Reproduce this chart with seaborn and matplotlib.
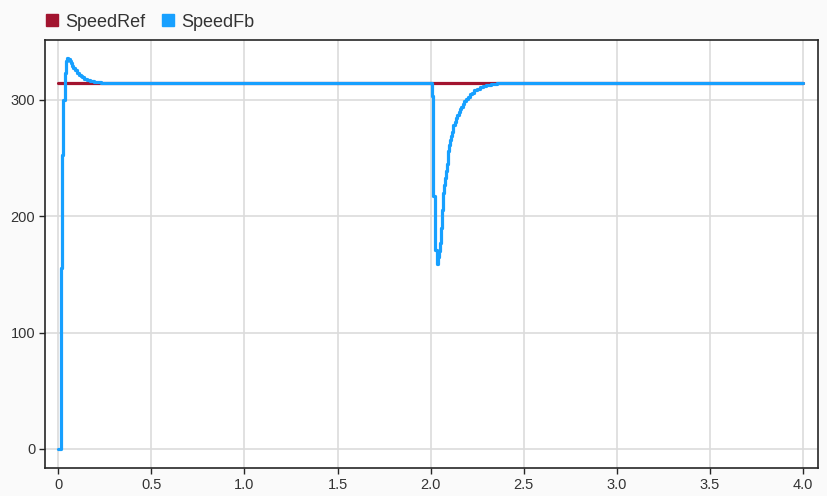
import pandas as pd
import seaborn as sns
import matplotlib.pyplot as plt
from matplotlib.lines import Line2D

# reference speed (constant step)
ref_t = [0.0, 4.0]
ref_v = [314.16, 314.16]

# measured speed feedback, sampled (zero-order hold)
fb_t = [0.0, 0.013, 0.018, 0.027, 0.036, 0.042, 0.048, 0.055, 0.062, 0.068,
        0.075, 0.082, 0.09, 0.10, 0.11, 0.12, 0.13, 0.14, 0.155, 0.17,
        0.19, 0.21, 0.23, 0.25,
        2.0, 2.005, 2.014, 2.023, 2.032, 2.041, 2.0455, 2.05, 2.0545, 2.059,
        2.0635, 2.068, 2.0725, 2.077, 2.0815, 2.086, 2.0905, 2.095, 2.0995, 2.104,
        2.1085, 2.113, 2.1175, 2.122, 2.128, 2.135, 2.142, 2.15, 2.158, 2.165,
        2.172, 2.18, 2.19, 2.2, 2.21, 2.22, 2.235, 2.25, 2.265, 2.28,
        2.295, 2.31, 2.325, 2.34, 2.355, 2.37, 4.0]
fb_v = [0.0, 155.0, 252.0, 300.0, 323.0, 333.0, 336.0, 335.0, 333.0, 331.0,
        329.0, 327.0, 325.0, 323.0, 321.5, 320.0, 319.0, 318.0, 317.0, 316.0,
        315.3, 314.8, 314.5, 314.2,
        314.16, 303.0, 217.0, 171.0, 159.0, 165.0, 170.0, 177.0, 190.0, 205.0,
        213.0, 220.0, 227.0, 233.0, 239.0, 245.0, 250.5, 256.0, 261.0, 265.5,
        269.0, 272.0, 275.0, 278.0, 281.0, 284.0, 286.5, 289.0, 291.5, 294.0,
        296.5, 298.5, 300.5, 302.5, 304.5, 306.0, 308.0, 309.5, 310.7, 311.5,
        312.2, 312.8, 313.2, 313.6, 313.9, 314.1, 314.16]

ref = pd.DataFrame({"t": ref_t, "v": ref_v})
fb = pd.DataFrame({"t": fb_t, "v": fb_v})

red = "#A2142F"
blue = "#17A0FF"

sns.set_style("white")
plt.rcParams["font.family"] = ["Liberation Sans", "DejaVu Sans"]

fig = plt.figure(figsize=(8.28, 4.96), dpi=100, facecolor="#FAFAFA")
ax = fig.add_axes([0.0543, 0.0565, 0.9337, 0.8625])
ax.set_facecolor("white")

sns.lineplot(data=ref, x="t", y="v", ax=ax, color=red, linewidth=2.3,
             drawstyle="steps-post", estimator=None)
sns.lineplot(data=fb, x="t", y="v", ax=ax, color=blue, linewidth=2.3,
             drawstyle="steps-post", estimator=None)

ax.set_xlim(-0.071, 4.08)
ax.set_ylim(-16.3, 351)
ax.set_xticks([0, 0.5, 1.0, 1.5, 2.0, 2.5, 3.0, 3.5, 4.0])
ax.set_xticklabels(["0", "0.5", "1.0", "1.5", "2.0", "2.5", "3.0", "3.5", "4.0"])
ax.set_yticks([0, 100, 200, 300])
ax.set_xlabel("")
ax.set_ylabel("")
ax.grid(True, color="#DCDCDC", linewidth=1.2)
ax.set_axisbelow(True)
for s in ax.spines.values():
    s.set_color("#262626")
    s.set_linewidth(1.2)
ax.tick_params(axis="both", direction="out", length=4, width=1, color="#262626",
               labelsize=10.5, labelcolor="#333333", pad=3, left=True, bottom=True)

handles = [Line2D([], [], marker="s", linestyle="", color=c, markersize=9)
           for c in (red, blue)]
fig.legend(handles, ["SpeedRef", "SpeedFb"], loc="upper left",
           bbox_to_anchor=(0.035, 1.005), ncol=2, frameon=False,
           fontsize=13, handlelength=0.7, handletextpad=0.4,
           columnspacing=0.9, labelcolor="#333333")

plt.savefig("out.png", dpi=100, facecolor=fig.get_facecolor())
